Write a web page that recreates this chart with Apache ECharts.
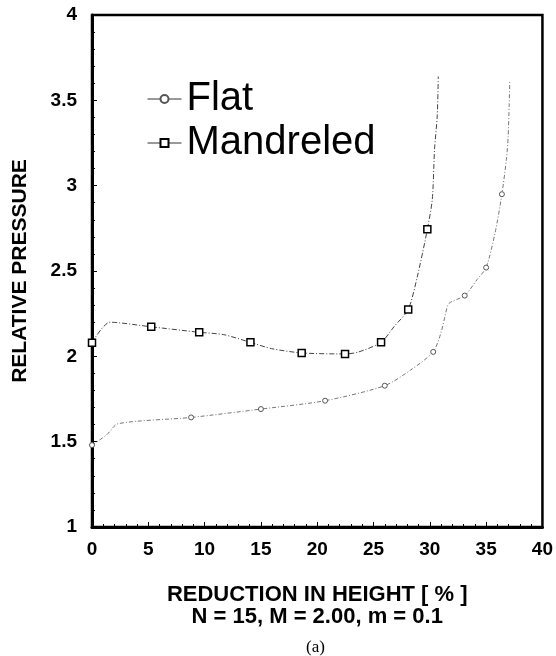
<!DOCTYPE html>
<html>
<head>
<meta charset="utf-8">
<script src="https://cdn.jsdelivr.net/npm/echarts@6/dist/echarts.min.js"></script>
<style>
  html, body { margin: 0; padding: 0; background: #fff; }
  #chart { width: 556px; height: 656px; }
</style>
</head>
<body>
<div id="chart"></div>
<script>
// Reduction in height [%] vs relative pressure, two die configurations
const flatX = [0, 1.3, 2.3, 8.8, 15.0, 20.7, 26.0, 28.3, 30.3, 31.0, 31.35, 31.7, 33.1, 34.2, 35.0, 35.8, 36.4, 36.8, 36.95, 37.05, 37.1];
const flatY = [1.48, 1.54, 1.605, 1.642, 1.691, 1.74, 1.828, 1.92, 2.026, 2.14, 2.235, 2.31, 2.356, 2.45, 2.52, 2.725, 2.95, 3.155, 3.28, 3.48, 3.61];
const flatMarked = [1, 0, 0, 1, 1, 1, 1, 0, 1, 0, 0, 0, 1, 0, 1, 0, 1, 0, 0, 0, 0];

const mandX = [0, 1.6, 5.26, 9.52, 11.7, 14.07, 15.95, 18.62, 22.47, 23.6, 25.67, 26.85, 28.08, 28.9, 29.78, 30.22, 30.42, 30.66, 30.75];
const mandY = [2.08, 2.2, 2.173, 2.141, 2.127, 2.082, 2.045, 2.02, 2.014, 2.024, 2.082, 2.176, 2.274, 2.47, 2.744, 2.92, 3.214, 3.41, 3.64];
const mandMarked = [1, 0, 1, 1, 0, 1, 0, 1, 1, 0, 1, 0, 1, 0, 1, 0, 0, 0, 0];

const xTicks = [0, 5, 10, 15, 20, 25, 30, 35, 40];
const yTicks = [1, 1.5, 2, 2.5, 3, 3.5, 4];

const seriesNames = ['Flat', 'Mandreled'];
const xTitle = 'REDUCTION IN HEIGHT [ % ]';
const xSubtitle = 'N = 15, M = 2.00, m = 0.1';
const yTitle = 'RELATIVE PRESSURE';
const caption = '(a)';

function buildPoints(xs, ys, marked) {
  return xs.map((x, i) => marked[i]
    ? { value: [x, ys[i]] }
    : { value: [x, ys[i]], symbol: 'none' });
}

const labelFont = { fontFamily: 'Liberation Sans, Arial, sans-serif', fontWeight: 'bold', fontSize: 19, color: '#000' };

const chart = echarts.init(document.getElementById('chart'), null, { renderer: 'canvas' });
chart.setOption({
  animation: false,
  backgroundColor: '#fff',
  title: {
    text: caption,
    left: 306,
    top: 639,
    padding: 0,
    textStyle: { fontFamily: 'Liberation Serif, DejaVu Serif, serif', fontWeight: 'normal', fontSize: 17, color: '#000' }
  },
  legend: {
    data: seriesNames,
    orient: 'vertical',
    left: 147,
    top: 77,
    padding: 0,
    itemGap: 0,
    itemWidth: 34,
    itemHeight: 10,
    lineStyle: { type: 'solid', width: 1, color: '#333' },
    textStyle: {
      fontFamily: 'Liberation Sans, Arial, sans-serif',
      fontSize: 40,
      color: '#000',
      lineHeight: 36,
      padding: [0, 0, 8, 0]
    }
  },
  grid: {
    left: 92, right: 10, top: 15, bottom: 129,
    show: true, borderColor: '#000', borderWidth: 2.5
  },
  xAxis: {
    type: 'value',
    min: xTicks[0], max: xTicks[xTicks.length - 1], interval: 5,
    name: xTitle + '\n' + xSubtitle,
    nameLocation: 'middle',
    nameGap: 57,
    nameTextStyle: { fontFamily: 'Liberation Sans, Arial, sans-serif', fontWeight: 'bold', fontSize: 22, lineHeight: 22, color: '#000' },
    axisLine: { show: true, lineStyle: { color: '#000', width: 3 } },
    axisTick: { show: true, inside: true, length: 5, lineStyle: { color: '#000', width: 1 } },
    minorTick: { show: true, splitNumber: 5, length: 3, lineStyle: { color: '#000', width: 1 } },
    axisLabel: Object.assign({ margin: 13 }, labelFont),
    splitLine: { show: false }
  },
  yAxis: {
    type: 'value',
    min: yTicks[0], max: yTicks[yTicks.length - 1], interval: 0.5,
    name: yTitle,
    nameLocation: 'middle',
    nameRotate: 90,
    nameGap: 61,
    nameTextStyle: { fontFamily: 'Liberation Sans, Arial, sans-serif', fontWeight: 'bold', fontSize: 21, color: '#000' },
    axisLine: { show: true, lineStyle: { color: '#000', width: 3 } },
    axisTick: { show: true, inside: true, length: 5, lineStyle: { color: '#000', width: 1 } },
    minorTick: { show: true, splitNumber: 5, length: 3, lineStyle: { color: '#000', width: 1 } },
    axisLabel: Object.assign({ margin: 15 }, labelFont),
    splitLine: { show: false }
  },
  series: [
    {
      name: seriesNames[0],
      type: 'line',
      smooth: 0.25,
      symbol: 'circle',
      symbolSize: 5,
      data: buildPoints(flatX, flatY, flatMarked),
      lineStyle: { color: '#777', width: 1, type: [4, 2, 1, 2] },
      itemStyle: { color: '#fff', borderColor: '#555', borderWidth: 1 }
    },
    {
      name: seriesNames[1],
      type: 'line',
      smooth: 0.25,
      symbol: 'rect',
      symbolSize: 7,
      data: buildPoints(mandX, mandY, mandMarked),
      lineStyle: { color: '#444', width: 1, type: [5, 2, 1, 2] },
      itemStyle: { color: '#fff', borderColor: '#000', borderWidth: 1.5 }
    }
  ]
});
</script>
</body>
</html>
